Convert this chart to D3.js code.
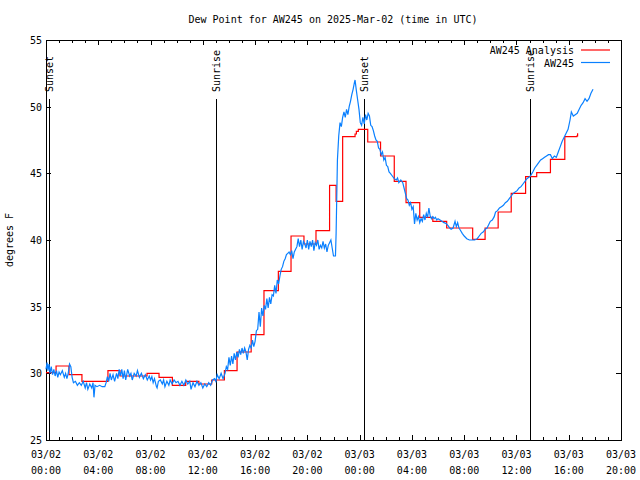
<!DOCTYPE html>
<html>
<head>
<meta charset="utf-8">
<script src="https://cdn.jsdelivr.net/npm/d3@7"></script>
<style>
  body { margin: 0; background: #fff; }
  text { font-family: "DejaVu Sans Mono", monospace; font-size: 10px; fill: #000; }
</style>
</head>
<body>
<script>
// hours since 03/02 00:00 UTC
const anaTime = [0.0, 0.77, 1.76, 2.75, 4.74, 5.66, 7.73, 8.65, 9.67, 10.69, 11.7, 12.68, 13.65, 14.62, 15.7, 16.68,
  17.78, 18.75, 19.74, 20.66, 21.7, 22.2, 22.7, 23.65, 23.75, 23.9, 24.62, 25.6, 26.65, 27.55, 28.6, 29.6, 30.66,
  32.65, 33.6, 34.6, 35.6, 36.7, 37.55, 38.6, 39.7, 40.62, 40.68];
const anaDew = [30.05, 30.55, 29.9, 29.4, 30.2, 29.8, 30.0, 29.7, 29.1, 29.4, 29.2, 29.5, 30.2, 31.6, 32.9, 36.2,
  37.65, 40.3, 39.7, 40.7, 44.1, 42.9, 47.75, 47.95, 48.15, 48.3, 47.35, 46.3, 44.4, 42.8, 41.7, 41.4, 40.9,
  40.05, 40.9, 42.1, 43.5, 44.75, 45.05, 46.05, 47.75, 47.8, 48.0];

const obsTime = [0.0, 0.08, 0.15, 0.23, 0.31, 0.4, 0.5, 0.6, 0.7, 0.8, 0.9, 1.0, 1.1, 1.25, 1.4, 1.5, 1.6, 1.7, 1.8, 1.9,
  2.0, 2.1, 2.25, 2.4, 2.55, 2.7, 2.85, 3.0, 3.1, 3.2, 3.35, 3.5, 3.6, 3.67, 3.75, 3.9, 4.1, 4.3, 4.5, 4.6,
  4.7, 4.8, 4.9, 5.0, 5.13, 5.25, 5.4, 5.5, 5.6, 5.7, 5.8, 5.9, 6.0, 6.1, 6.25, 6.4, 6.5, 6.6, 6.75, 6.9,
  7.0, 7.15, 7.3, 7.45, 7.6, 7.75, 7.9, 8.0, 8.1, 8.2, 8.3, 8.45, 8.5, 8.6, 8.75, 8.9, 9.0, 9.1, 9.25, 9.4,
  9.5, 9.65, 9.8, 9.95, 10.1, 10.25, 10.4, 10.55, 10.7, 10.85, 11.0, 11.1, 11.25, 11.4, 11.55, 11.7, 11.85, 12.0, 12.15, 12.3,
  12.45, 12.6, 12.75, 12.9, 13.0, 13.1, 13.25, 13.4, 13.55, 13.7, 13.8, 13.9, 14.0, 14.1, 14.2, 14.3, 14.4, 14.5, 14.6, 14.7,
  14.8, 14.9, 15.0, 15.1, 15.2, 15.3, 15.4, 15.5, 15.6, 15.7, 15.8, 15.9, 16.0, 16.1, 16.2, 16.3, 16.4, 16.5, 16.6, 16.7,
  16.8, 16.9, 17.0, 17.1, 17.2, 17.3, 17.4, 17.5, 17.6, 17.7, 17.8, 17.9, 18.0, 18.1, 18.2, 18.3, 18.4, 18.5, 18.6, 18.7,
  18.8, 18.9, 19.0, 19.1, 19.2, 19.3, 19.4, 19.5, 19.6, 19.7, 19.8, 19.9, 20.0, 20.1, 20.2, 20.3, 20.4, 20.5, 20.6, 20.7,
  20.8, 20.9, 21.0, 21.1, 21.2, 21.3, 21.4, 21.5, 21.6, 21.7, 21.8, 21.9, 22.0, 22.15, 22.2, 22.3, 22.4, 22.5, 22.6, 22.7,
  22.8, 22.9, 23.0, 23.1, 23.2, 23.3, 23.4, 23.5, 23.6, 23.65, 23.75, 23.85, 23.95, 24.05, 24.15, 24.25, 24.35, 24.45, 24.55, 24.65,
  24.75, 24.85, 24.95, 25.05, 25.15, 25.25, 25.35, 25.45, 25.55, 25.65, 25.75, 25.85, 25.95, 26.05, 26.15, 26.25, 26.35, 26.5, 26.65, 26.8,
  26.9, 27.0, 27.15, 27.3, 27.4, 27.5, 27.6, 27.7, 27.8, 27.9, 28.0, 28.1, 28.2, 28.3, 28.4, 28.5, 28.6, 28.7, 28.8, 28.9,
  29.0, 29.1, 29.2, 29.3, 29.4, 29.5, 29.6, 29.7, 29.8, 29.9, 30.0, 30.15, 30.3, 30.45, 30.6, 30.75, 30.9, 31.0, 31.15, 31.3,
  31.4, 31.5, 31.6, 31.7, 31.85, 32.0, 32.2, 32.4, 32.6, 32.8, 33.0, 33.15, 33.3, 33.45, 33.6, 33.75, 33.9, 34.0, 34.15, 34.3,
  34.4, 34.55, 34.7, 34.85, 35.0, 35.15, 35.3, 35.45, 35.6, 35.75, 35.9, 36.05, 36.2, 36.35, 36.5, 36.65, 36.8, 36.95, 37.1, 37.25,
  37.4, 37.55, 37.7, 37.85, 38.0, 38.15, 38.3, 38.45, 38.6, 38.75, 38.9, 39.05, 39.2, 39.35, 39.5, 39.65, 39.8, 39.95, 40.1, 40.2,
  40.35, 40.5, 40.65, 40.8, 40.95, 41.1, 41.25, 41.4, 41.55, 41.7, 41.86];
const obsDew = [30.3, 30.8, 30.2, 30.7, 30.0, 30.5, 29.9, 30.3, 29.8, 30.2, 29.7, 30.1, 29.9, 30.2, 29.7, 30.0, 29.6, 30.0, 30.7, 30.5,
  29.7, 29.3, 29.4, 29.1, 29.3, 29.1, 29.4, 28.9, 29.3, 28.8, 29.2, 28.9, 29.3, 28.2, 29.1, 29.0, 29.1, 29.0, 29.0, 29.3,
  29.75, 29.4, 30.0, 29.5, 29.9, 29.4, 30.0, 29.6, 30.3, 29.8, 30.3, 29.6, 30.2, 29.5, 30.3, 29.8, 30.0, 29.5, 30.0, 29.8,
  30.2, 29.7, 30.0, 29.6, 29.9, 29.5, 29.8, 29.5, 29.75, 29.3, 29.6, 29.0, 28.9, 29.4, 29.5, 29.2, 29.5, 29.0, 29.4, 29.1,
  29.5, 29.2, 29.5, 29.3, 29.4, 29.1, 29.4, 29.1, 29.5, 29.2, 29.4, 28.8, 29.3, 29.0, 29.4, 29.1, 29.3, 28.9, 29.2, 29.0,
  29.3, 29.1, 29.5, 29.6, 29.4, 29.9, 29.6, 30.0, 29.6, 30.0, 30.5, 30.3, 31.2, 30.6, 31.3, 30.7, 31.5, 31.0, 31.6, 31.2,
  31.8, 31.4, 31.9, 31.5, 31.9, 31.6, 31.0, 31.8, 32.1, 31.9, 32.5, 32.0, 32.4, 33.2, 33.3, 34.6, 33.5, 34.9, 34.3, 35.1,
  34.8, 35.6, 34.9, 35.7, 35.2, 35.9, 35.8, 36.6, 36.0, 37.0, 36.7, 37.3, 37.8, 38.0, 38.4, 38.6, 38.9, 39.0, 39.1, 38.9,
  39.2, 38.6, 39.1, 39.3, 39.5, 40.1, 39.5, 40.0, 39.3, 39.9, 39.7, 39.4, 40.0, 39.3, 39.9, 39.5, 40.0, 39.2, 39.8, 39.6,
  40.0, 39.3, 39.6, 39.4, 39.9, 39.4, 39.7, 39.1, 39.6, 39.8, 40.0, 39.4, 38.8, 38.8, 40.5, 46.0, 47.8, 48.8, 48.5, 49.2,
  49.6, 49.2, 49.8, 49.4, 50.0, 50.4, 50.9, 51.3, 51.8, 52.0, 51.2, 50.5, 49.8, 48.8, 48.6, 49.2, 48.7, 49.4, 49.0, 49.5,
  49.3, 48.6, 48.5, 48.2, 47.8, 47.5, 47.4, 46.9, 46.8, 46.4, 46.6, 46.0, 46.2, 45.6, 45.5, 45.1, 45.0, 44.8, 44.6, 44.5,
  44.65, 44.3, 44.5, 44.3, 43.9, 43.5, 43.1, 43.0, 42.6, 42.8, 42.3, 42.5, 41.2, 42.0, 41.5, 41.75, 41.3, 41.6, 41.4, 41.9,
  41.5, 42.0, 41.7, 42.4, 41.8, 41.6, 41.75, 41.6, 41.7, 41.5, 41.6, 41.5, 41.4, 41.3, 41.25, 41.1, 40.9, 40.8, 40.9, 41.4,
  41.0, 41.3, 40.9, 40.75, 40.5, 40.3, 40.1, 40.0, 40.0, 40.0, 40.1, 40.3, 40.5, 40.6, 40.8, 40.9, 41.2, 41.4, 41.5, 41.75,
  42.1, 42.2, 42.4, 42.5, 42.6, 42.8, 42.9, 43.1, 43.3, 43.5, 43.6, 43.7, 43.9, 44.0, 44.2, 44.4, 44.6, 44.7, 44.85, 45.1,
  45.4, 45.6, 45.8, 46.0, 46.1, 46.2, 46.3, 46.4, 46.4, 46.1, 46.3, 46.2, 46.6, 47.0, 47.4, 47.7, 48.0, 48.3, 49.0, 49.6,
  49.3, 49.4, 49.5, 49.8, 50.1, 50.3, 50.6, 50.4, 50.6, 51.0, 51.3];

const eventTime = [0.23, 13.0, 24.33, 37.04];
const eventName = ["Sunset", "Sunrise", "Sunset", "Sunrise"];

const xTickHours = [0, 4, 8, 12, 16, 20, 24, 28, 32, 36, 40, 44];
const xTickDates = ["03/02", "03/02", "03/02", "03/02", "03/02", "03/02", "03/03", "03/03", "03/03", "03/03", "03/03", "03/03"];
const xTickClock = ["00:00", "04:00", "08:00", "12:00", "16:00", "20:00", "00:00", "04:00", "08:00", "12:00", "16:00", "20:00"];
const yTicks = [25, 30, 35, 40, 45, 50, 55];

const width = 640, height = 480;
const plotLeft = 46, plotRight = 621, plotTop = 40, plotBottom = 440;

const svg = d3.select("body").append("svg")
    .attr("width", width)
    .attr("height", height);

const x = d3.scaleLinear().domain([0, 44]).range([plotLeft, plotRight]);
const y = d3.scaleLinear().domain([25, 55]).range([plotBottom, plotTop]);

// title
svg.append("text")
    .attr("x", 333).attr("y", 23)
    .attr("text-anchor", "middle")
    .text("Dew Point for AW245 on 2025-Mar-02 (time in UTC)");

// axes, ticks pointing inward
const hourTicks = d3.range(0, 45);
const axes = svg.append("g").attr("shape-rendering", "crispEdges");

axes.append("g").attr("transform", `translate(0,${plotBottom})`)
    .call(d3.axisBottom(x).tickValues(hourTicks).tickSizeInner(-3).tickSizeOuter(0).tickFormat(""));
axes.append("g").attr("transform", `translate(0,${plotBottom})`)
    .call(d3.axisBottom(x).tickValues(xTickHours).tickSizeInner(-5).tickSizeOuter(0).tickFormat(""));
axes.append("g").attr("transform", `translate(0,${plotTop})`)
    .call(d3.axisTop(x).tickValues(hourTicks).tickSizeInner(-3).tickSizeOuter(0).tickFormat(""));
axes.append("g").attr("transform", `translate(0,${plotTop})`)
    .call(d3.axisTop(x).tickValues(xTickHours).tickSizeInner(-5).tickSizeOuter(0).tickFormat(""));
axes.append("g").attr("transform", `translate(${plotLeft},0)`)
    .call(d3.axisLeft(y).tickValues(yTicks).tickSizeInner(-5).tickSizeOuter(0).tickFormat(""));
axes.append("g").attr("transform", `translate(${plotRight},0)`)
    .call(d3.axisRight(y).tickValues(yTicks).tickSizeInner(-5).tickSizeOuter(0).tickFormat(""));
axes.selectAll(".domain").remove();
axes.selectAll("line").attr("stroke", "#000");

axes.append("rect")
    .attr("x", plotLeft).attr("y", plotTop)
    .attr("width", plotRight - plotLeft).attr("height", plotBottom - plotTop)
    .attr("fill", "none").attr("stroke", "#000");

// tick labels
svg.append("g").selectAll("text")
    .data(yTicks)
    .join("text")
    .attr("x", plotLeft - 4)
    .attr("y", d => y(d) + 4)
    .attr("text-anchor", "end")
    .text(d => d);

const xl = svg.append("g").selectAll("g")
    .data(xTickHours)
    .join("g")
    .attr("transform", d => `translate(${x(d)},0)`);
xl.append("text").attr("y", 458).attr("text-anchor", "middle").text((d, i) => xTickDates[i]);
xl.append("text").attr("y", 474).attr("text-anchor", "middle").text((d, i) => xTickClock[i]);

svg.append("text")
    .attr("transform", "translate(13,240) rotate(-90)")
    .attr("text-anchor", "middle")
    .text("degrees F");

// sunrise / sunset markers
const ev = svg.append("g");
ev.selectAll("line")
    .data(eventTime)
    .join("line")
    .attr("shape-rendering", "crispEdges")
    .attr("x1", d => Math.round(x(d)) + 0.5).attr("x2", d => Math.round(x(d)) + 0.5)
    .attr("y1", 99).attr("y2", plotBottom)
    .attr("stroke", "#000");
ev.selectAll("text")
    .data(eventTime)
    .join("text")
    .attr("transform", d => `translate(${Math.round(x(d)) + 4},92) rotate(-90)`)
    .attr("text-anchor", "start")
    .text((d, i) => eventName[i]);

// series
const anaData = anaTime.map((t, i) => [t, anaDew[i]]);
const obsData = obsTime.map((t, i) => [t, obsDew[i]]);

svg.append("path")
    .datum(anaData)
    .attr("fill", "none")
    .attr("stroke", "#ff0000")
    .attr("stroke-width", 1.2)
    .attr("d", d3.line().x(d => x(d[0])).y(d => y(d[1])).curve(d3.curveStepAfter));

svg.append("path")
    .datum(obsData)
    .attr("fill", "none")
    .attr("stroke", "#0a80ff")
    .attr("stroke-width", 1.2)
    .attr("d", d3.line().x(d => x(d[0])).y(d => y(d[1])));

// legend
const legend = [["AW245 Analysis", "#ff0000"], ["AW245", "#0a80ff"]];
const lg = svg.append("g").selectAll("g")
    .data(legend)
    .join("g")
    .attr("transform", (d, i) => `translate(0,${50 + i * 12.5})`);
lg.append("text").attr("x", 574).attr("y", 4).attr("text-anchor", "end").text(d => d[0]);
lg.append("line")
    .attr("x1", 581).attr("x2", 610)
    .attr("stroke", d => d[1]).attr("stroke-width", 1.2);
</script>
</body>
</html>
